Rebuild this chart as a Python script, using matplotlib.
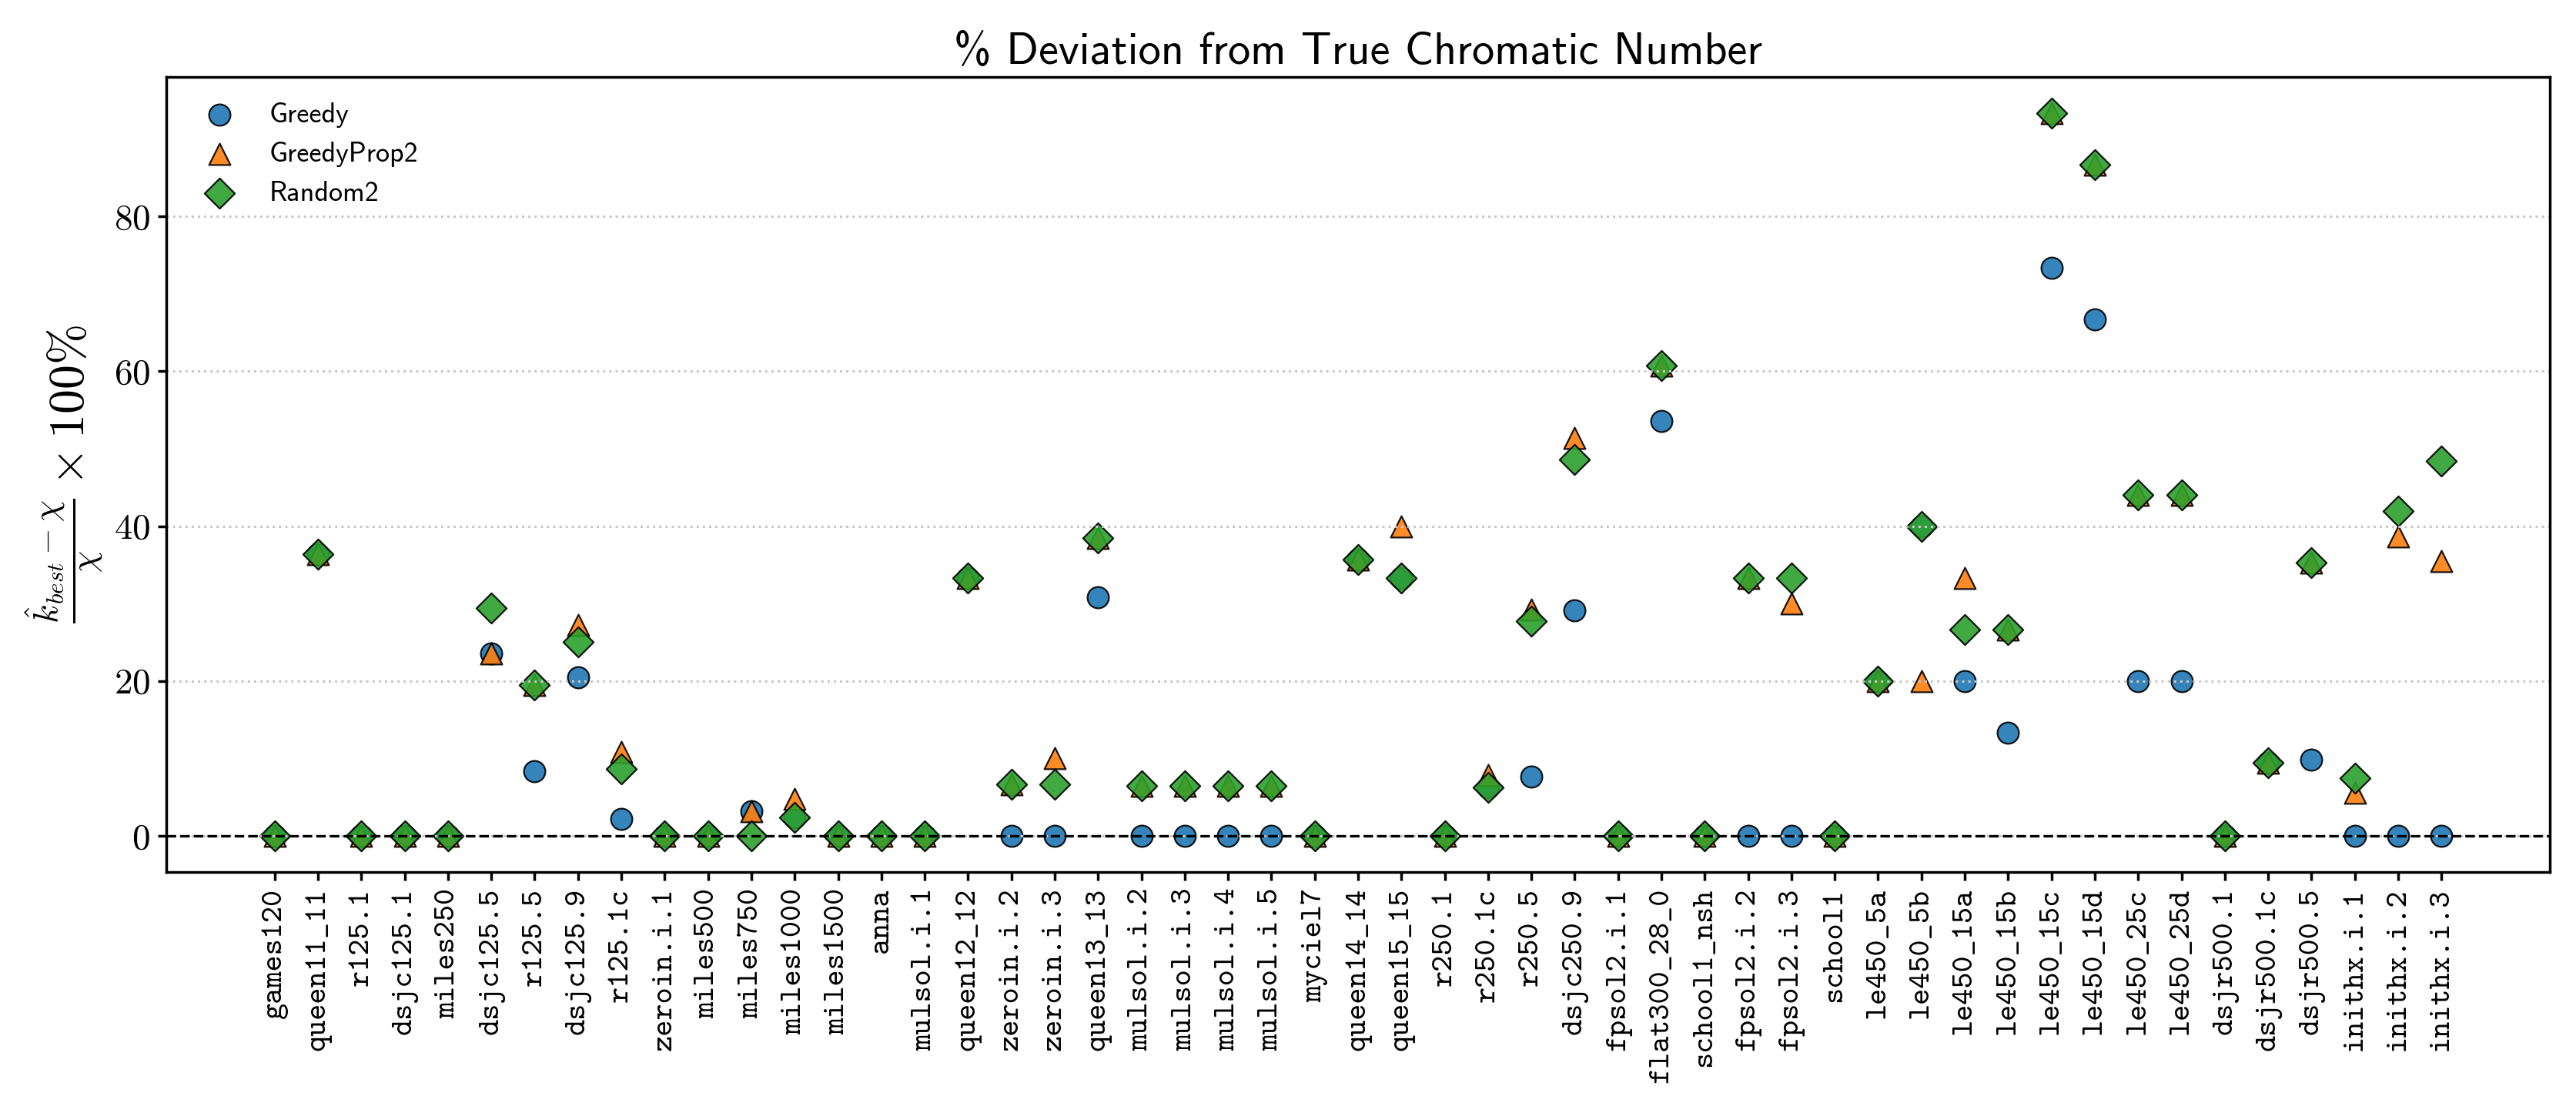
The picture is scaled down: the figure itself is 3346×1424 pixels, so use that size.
import matplotlib
matplotlib.use("Agg")
import matplotlib.pyplot as plt
import numpy as np

plt.rcParams['mathtext.fontset'] = 'cm'
plt.rcParams['axes.formatter.use_mathtext'] = True

instances = ["games120", "queen11_11", "r125.1", "dsjc125.1", "miles250", "dsjc125.5",
             "r125.5", "dsjc125.9", "r125.1c", "zeroin.i.1", "miles500", "miles750",
             "miles1000", "miles1500", "anna", "mulsol.i.1", "queen12_12", "zeroin.i.2",
             "zeroin.i.3", "queen13_13", "mulsol.i.2", "mulsol.i.3", "mulsol.i.4",
             "mulsol.i.5", "myciel7", "queen14_14", "queen15_15", "r250.1", "r250.1c",
             "r250.5", "dsjc250.9", "fpsol2.i.1", "flat300_28_0", "school1_nsh",
             "fpsol2.i.2", "fpsol2.i.3", "school1", "le450_5a", "le450_5b", "le450_15a",
             "le450_15b", "le450_15c", "le450_15d", "le450_25c", "le450_25d",
             "dsjr500.1", "dsjr500.1c", "dsjr500.5", "inithx.i.1", "inithx.i.2",
             "inithx.i.3"]

greedy = [0, 36.36, 0, 0, 0, 23.53, 8.33, 20.45, 2.17, 0, 0, 3.23, 2.38, 0, 0, 0,
          33.33, 0, 0, 30.77, 0, 0, 0, 0, 0, 35.71, 33.33, 0, 6.25, 7.69, 29.17, 0,
          53.57, 0, 0, 0, 0, 20.0, 40.0, 20.0, 13.33, 73.33, 66.67, 20.0, 20.0, 0,
          9.41, 9.84, 0, 0, 0]

greedyprop2 = [0, 36.36, 0, 0, 0, 23.53, 19.44, 27.27, 10.87, 0, 0, 3.23, 4.76, 0, 0, 0,
               33.33, 6.67, 10.0, 38.46, 6.45, 6.45, 6.45, 6.45, 0, 35.71, 40.0, 0, 7.81,
               29.23, 51.39, 0, 60.71, 0, 33.33, 30.0, 0, 20.0, 20.0, 33.33, 26.67,
               93.33, 86.67, 44.0, 44.0, 0, 9.41, 35.25, 5.56, 38.71, 35.48]

random2 = [0, 36.36, 0, 0, 0, 29.41, 19.44, 25.0, 8.70, 0, 0, 0, 2.38, 0, 0, 0,
           33.33, 6.67, 6.67, 38.46, 6.45, 6.45, 6.45, 6.45, 0, 35.71, 33.33, 0, 6.25,
           27.69, 48.61, 0, 60.71, 0, 33.33, 33.33, 0, 20.0, 40.0, 26.67, 26.67,
           93.33, 86.67, 44.0, 44.0, 0, 9.41, 35.25, 7.41, 41.94, 48.39]

series_names = ["Greedy", "GreedyProp2", "Random2"]
yticks = [0, 20, 40, 60, 80]

W, H = 3346, 1424
fig = plt.figure(figsize=(W / 200, H / 200), dpi=200)
ax = fig.add_axes([216 / W, 1 - 1133 / H, (3312 - 216) / W, (1133 - 100) / H])

x = np.arange(len(instances))
styles = [("o", "tab:blue"), ("^", "tab:orange"), ("D", "tab:green")]
for vals, name, (m, c) in zip([greedy, greedyprop2, random2], series_names, styles):
    ax.scatter(x, vals, s=100, marker=m, color=c, alpha=0.9, edgecolors="k",
               linewidths=0.8, label=name)

ax.axhline(0, color="k", ls="--", lw=1.2)
ax.set_xticks(x)
ax.set_xticklabels(instances, rotation=90, fontfamily="cmtt10", fontsize=14.5)
ax.set_yticks(yticks)
for lab in ax.get_yticklabels():
    lab.set_fontfamily("cmr10")
    lab.set_fontsize(17)
ax.yaxis.grid(True, ls=":", color="#c8c8c8", lw=1.1)
for sp in ax.spines.values():
    sp.set_linewidth(1.25)
ax.tick_params(width=1.25, length=4)

ax.set_title("% Deviation from True Chromatic Number", fontfamily="cmss10", fontsize=21)
ax.set_ylabel(r"$\frac{\hat{k}_{best}-\chi}{\chi}\times 100\%$", fontsize=23)
leg = ax.legend(loc="upper left", frameon=False, prop={"family": "cmss10", "size": 13})

fig.savefig("out.png", dpi=200)
